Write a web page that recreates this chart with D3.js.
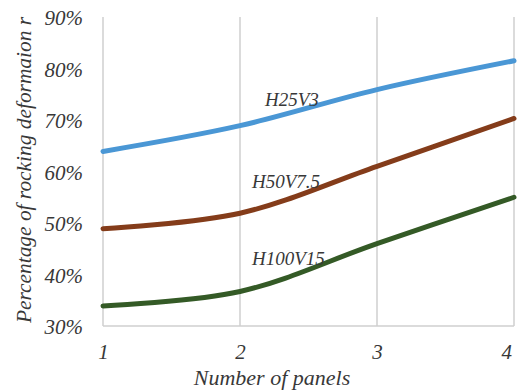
<!DOCTYPE html>
<html>
<head>
<meta charset="utf-8">
<script src="https://cdn.jsdelivr.net/npm/d3@7"></script>
<style>
  html, body { margin: 0; padding: 0; background: #fff; }
  svg { display: block; }
  text { font-family: "Liberation Serif", "Times New Roman", serif; font-style: italic; fill: #383838; }
</style>
</head>
<body>
<svg id="chart" width="518" height="390"></svg>
<script>
// Number of panels on the x axis
const panels = [1, 2, 3, 4];
// Percentage of rocking deformation for each configuration
const seriesNames = ["H25V3", "H50V7.5", "H100V15"];
const h25v3 = [63.9, 68.9, 75.9, 81.5];
const h50v75 = [48.9, 51.9, 61.0, 70.3];
const h100v15 = [33.9, 36.7, 46.0, 55.0];
const yTicks = [30, 40, 50, 60, 70, 80, 90];
const seriesColors = ["#4A97D5", "#843C1A", "#345A26"];

const svg = d3.select("#chart");
const m = { left: 103, right: 4, top: 17, bottom: 64 };
const W = 518, H = 390;

const x = d3.scaleLinear().domain([1, 4]).range([m.left, W - m.right]);
const y = d3.scaleLinear().domain([30, 90]).range([H - m.bottom, m.top]);

// vertical gridlines at each panel count
svg.append("g").selectAll("line").data(panels).join("line")
  .attr("x1", d => x(d)).attr("x2", d => x(d))
  .attr("y1", y(90)).attr("y2", y(30))
  .attr("stroke", "#cfcfcf").attr("stroke-width", 1.5);

// bottom axis line
svg.append("line")
  .attr("x1", x(1)).attr("x2", x(4))
  .attr("y1", y(30)).attr("y2", y(30))
  .attr("stroke", "#cfcfcf").attr("stroke-width", 1.5);

// y tick labels
const yAxis = d3.axisLeft(y).tickValues(yTicks).tickFormat(d => d + "%").tickSize(0).tickPadding(20);
const gy = svg.append("g").attr("transform", `translate(${m.left},0)`).call(yAxis);
gy.select(".domain").remove();
gy.selectAll("text").attr("font-size", 21).attr("dy", "0.36em");

// x tick labels (the last one is kept inside the right edge of the page)
const xAxis = d3.axisBottom(x).tickValues(panels).tickFormat(d3.format("d")).tickSize(0).tickPadding(18);
const gx = svg.append("g").attr("transform", `translate(0,${y(30)})`).call(xAxis);
gx.select(".domain").remove();
gx.selectAll("text").attr("font-size", 21)
  .attr("text-anchor", d => d === 4 ? "end" : "middle")
  .attr("dx", d => d === 4 ? "-0.12em" : 0);

// smoothed series lines
const line = d3.line()
  .x((d, i) => x(panels[i]))
  .y(d => y(d))
  .curve(d3.curveCatmullRom.alpha(0.5));

const allSeries = [h25v3, h50v75, h100v15];
svg.append("g").selectAll("path").data(allSeries).join("path")
  .attr("d", d => line(d))
  .attr("fill", "none")
  .attr("stroke", (d, i) => seriesColors[i])
  .attr("stroke-width", 5)
  .attr("stroke-linecap", "round");

// in-plot series labels
const labelPos = [[265, 106], [252, 188], [252, 265]];
svg.append("g").selectAll("text").data(seriesNames).join("text")
  .attr("x", (d, i) => labelPos[i][0])
  .attr("y", (d, i) => labelPos[i][1])
  .attr("font-size", 19)
  .text(d => d);

// axis titles
svg.append("text")
  .attr("x", 272).attr("y", 385)
  .attr("text-anchor", "middle")
  .attr("font-size", 22)
  .text("Number of panels");

svg.append("text")
  .attr("transform", "translate(31,170) rotate(-90)")
  .attr("text-anchor", "middle")
  .attr("font-size", 21.4)
  .text("Percentage of rocking deformaion r");
</script>
</body>
</html>
